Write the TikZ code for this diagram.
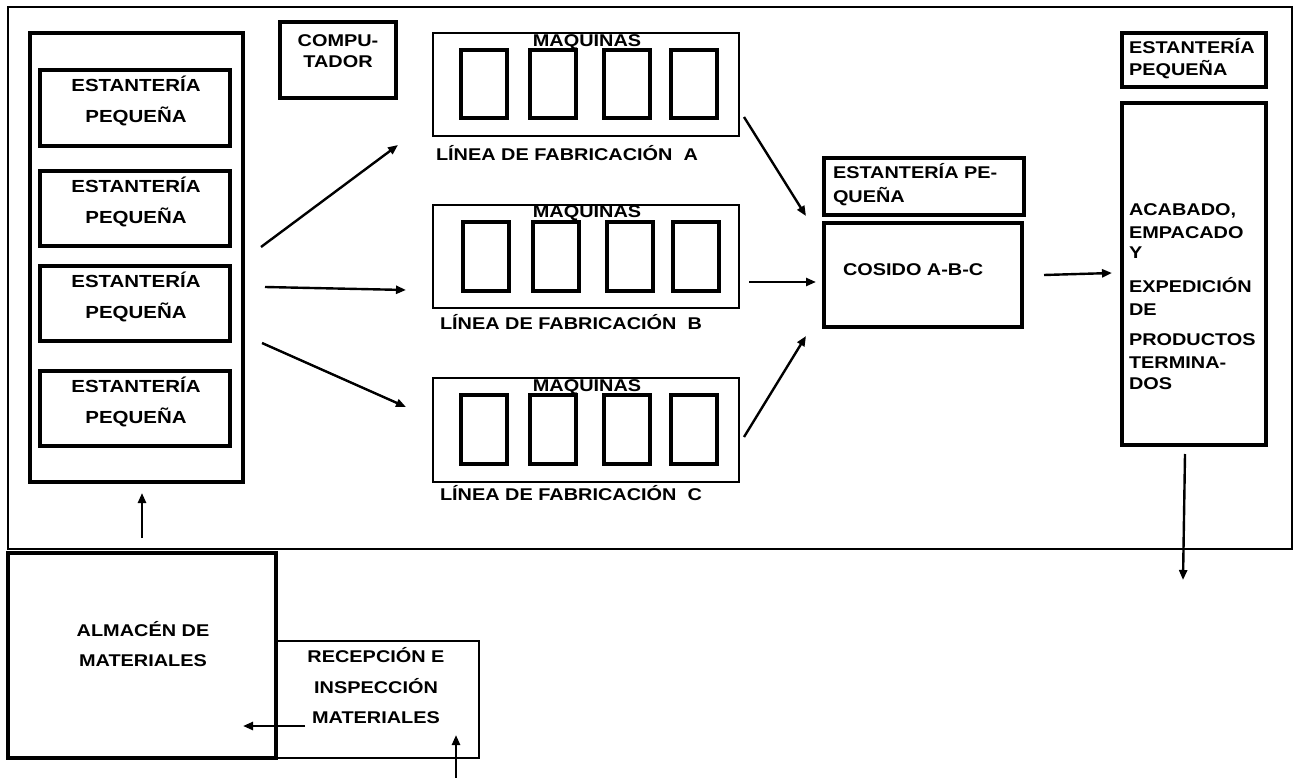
\documentclass[tikz,border=0pt]{standalone}
\usepackage{fontspec}
\setmainfont{Liberation Sans}[FakeStretch=1.17]
\usetikzlibrary{arrows.meta,fit}
\begin{document}
\begin{tikzpicture}[x=1pt,y=-1pt,
  every node/.style={inner sep=0pt, outer sep=0pt},
  box/.style={draw, line width=3.2pt},
  thinbox/.style={draw, line width=2.2pt},
  linebox/.style={draw, line width=2.8pt},
  frame/.style={draw, line width=2.6pt},
  mach/.style={draw, line width=3.6pt},
  txt/.style={font=\fontsize{17}{21}\selectfont\bfseries},
  arr/.style={line width=2.4pt, -{Triangle[length=10pt,width=8pt]}}]
\useasboundingbox (0,0) rectangle (1300,778);
% outer frame
\node[frame, fit={(8,7)(1292,549)}] (plant) {};
% left shelf block
\node[box, fit={(30,33)(243,482)}] (left) {};
\node[box, fit={(40,70)(230,146)}] (s1) {};
\node[box, fit={(40,171)(230,246)}] (s2) {};
\node[box, fit={(40,266)(230,341)}] (s3) {};
\node[box, fit={(40,371)(230,446)}] (s4) {};
\node[txt, align=center, font=\fontsize{17.5}{31}\selectfont\bfseries] (t1) at (136,101) {ESTANTERÍA\\PEQUEÑA};
\node[txt, align=center, font=\fontsize{17.5}{31}\selectfont\bfseries] (t2) at (136,202) {ESTANTERÍA\\PEQUEÑA};
\node[txt, align=center, font=\fontsize{17.5}{31}\selectfont\bfseries] (t3) at (136,297) {ESTANTERÍA\\PEQUEÑA};
\node[txt, align=center, font=\fontsize{17.5}{31}\selectfont\bfseries] (t4) at (136,402) {ESTANTERÍA\\PEQUEÑA};
% computer
\node[box, fit={(280,22)(396,98)}] (comp) {};
\node[txt, align=center] (tcomp) at (338,51) {COMPU-\\TADOR};
% line A
\node[linebox, fit={(433,33)(739,136)}] (lineA) {};
\node[mach, fit={(461,50)(507,118)}] (a1) {};
\node[mach, fit={(530,50)(576,118)}] (a2) {};
\node[mach, fit={(604,50)(650,118)}] (a3) {};
\node[mach, fit={(671,50)(717,118)}] (a4) {};
\node[txt] (ma) at (587,42) {MAQUINAS};
\node[txt, anchor=west] (la) at (436,153) {LÍNEA DE FABRICACIÓN\ \ A};
% line B
\node[linebox, fit={(433,205)(739,308)}] (lineB) {};
\node[mach, fit={(463,222)(509,291)}] (b1) {};
\node[mach, fit={(533,222)(579,291)}] (b2) {};
\node[mach, fit={(607,222)(653,291)}] (b3) {};
\node[mach, fit={(673,222)(719,291)}] (b4) {};
\node[txt] (mb) at (587,213) {MAQUINAS};
\node[txt, anchor=west] (lb) at (440,322) {LÍNEA DE FABRICACIÓN\ \ B};
% line C
\node[linebox, fit={(433,378)(739,482)}] (lineC) {};
\node[mach, fit={(461,395)(507,464)}] (c1) {};
\node[mach, fit={(530,395)(576,464)}] (c2) {};
\node[mach, fit={(604,395)(650,464)}] (c3) {};
\node[mach, fit={(671,395)(717,464)}] (c4) {};
\node[txt] (mc) at (587,387) {MAQUINAS};
\node[txt, anchor=west] (lc) at (440,493) {LÍNEA DE FABRICACIÓN\ \ C};
% middle shelf and cosido
\node[box, fit={(824,158)(1024,215)}] (smid) {};
\node[txt, align=left, anchor=north west, font=\fontsize{17}{24}\selectfont\bfseries] (tsmid) at (833,163) {ESTANTERÍA PE-\\QUEÑA};
\node[box, fit={(824,223)(1022,327)}] (cosido) {};
\node[txt, anchor=west] (tcos) at (843,270) {COSIDO A-B-C};
% right
\node[box, fit={(1122,33)(1266,87)}] (sright) {};
\node[txt, align=left, anchor=north west, font=\fontsize{17}{22}\selectfont\bfseries] (tsr) at (1129,38) {ESTANTERÍA\\PEQUEÑA};
\node[box, fit={(1122,103)(1266,445)}] (acab) {};
\node[txt, align=left, anchor=north west] (tacab) at (1129,204) {ACABADO,\\[2pt]EMPACADO\\[-1pt]Y\\[13pt]EXPEDICIÓN\\[2pt]DE\\[9pt]PRODUCTOS\\[2pt]TERMINA-\\DOS};
% bottom
\node[box, fit={(8,553)(276,758)}] (alm) {};
\node[txt, align=center, font=\fontsize{17}{30}\selectfont\bfseries] (talm) at (143,644) {ALMACÉN DE\\MATERIALES};
\node[thinbox, fit={(276,641)(479,758)}] (rec) {};
\node[txt, align=center, font=\fontsize{17}{30.5}\selectfont\bfseries] (trec) at (376,686) {RECEPCIÓN E\\INSPECCIÓN\\MATERIALES};
% arrows
\draw[arr] ([shift={(18,-10.5)}]left.east) -- ([shift={(-35,9)}]lineA.south west);
\draw[arr] ([shift={(22,29.5)}]left.east) -- ([shift={(-27,-18)}]lineB.south west);
\draw[arr] ([shift={(19,85.5)}]left.east) -- ([shift={(-27,-23)}]lineC.west);
\draw[arr] ([shift={(5,-19)}]lineA.south east) -- ([shift={(-18,-7)}]cosido.north west);
\draw[arr] ([shift={(10,25.5)}]lineB.east) -- ([shift={(-8,7)}]cosido.west);
\draw[arr] ([shift={(5,7)}]lineC.east) -- ([shift={(-18,9)}]cosido.south west);
\draw[arr] ([shift={(22,0)}]cosido.east) -- ([shift={(-10,-1)}]acab.west);
\coordinate (out) at ([shift={(-11,135)}]acab.south);
\draw[arr] ([shift={(-9,9)}]acab.south) -- (out);
\draw[arr] ([shift={(0,-15)}]alm.north) -- ([shift={(5.5,11)}]left.south);
\draw[arr] ([shift={(29,26.5)}]rec.west) -- ([shift={(-33,26.5)}]rec.west);
\coordinate (inp) at ([shift={(-23,20)}]rec.south east);
\draw[arr] (inp) -- ([shift={(-23,-23)}]rec.south east);
\end{tikzpicture}
\end{document}
